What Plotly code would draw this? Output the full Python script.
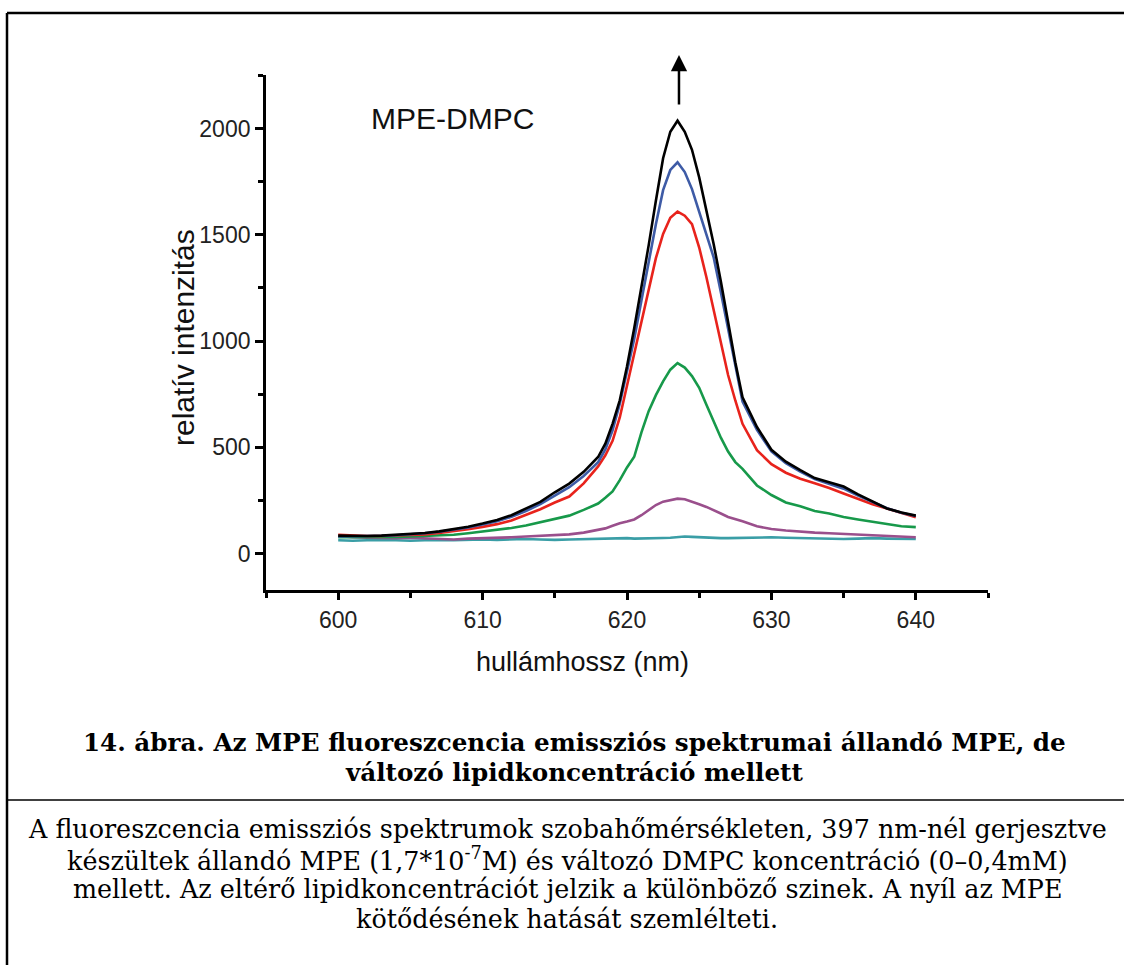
import plotly.graph_objects as go

# ---------------- data ----------------
wavelength = [600, 601, 602, 603, 604, 605, 606, 607, 608, 609, 610, 611, 612, 613, 614, 615, 616, 617, 618,
              618.5, 619, 619.5, 620, 620.5, 621, 621.5, 622, 622.5, 623, 623.5, 624, 624.5, 625, 625.5,
              626, 626.5, 627, 627.5, 628,
              629, 630, 631, 632, 633, 634, 635, 636, 637, 638, 639, 640]

black = [84, 82, 82, 84, 87, 90, 96, 104, 114, 126, 141, 158, 180, 210, 243, 288, 329, 384, 454,
         517, 610, 721, 880, 1060, 1250, 1450, 1660, 1860, 1985, 2037, 1985, 1900, 1770, 1610,
         1457, 1280, 1080, 900, 735,
         595, 488, 432, 392, 355, 335, 315, 278, 245, 212, 193, 178]

blue = [80, 80, 81, 83, 86, 89, 95, 102, 111, 122, 136, 152, 173, 200, 232, 272, 312, 365, 430,
        490, 580, 705, 855, 1010, 1190, 1370, 1550, 1710, 1805, 1841, 1795, 1715, 1610, 1500,
        1394, 1230, 1060, 880, 715,
        582, 480, 425, 385, 350, 328, 305, 272, 242, 213, 192, 176]

red = [88, 84, 82, 82, 84, 86, 90, 96, 104, 114, 125, 138, 155, 180, 208, 240, 268, 330, 410,
       462, 530, 640, 790, 930, 1090, 1240, 1390, 1504, 1580, 1609, 1590, 1550, 1440, 1300,
       1150, 990, 840, 720, 610,
       486, 420, 380, 352, 330, 308, 282, 256, 232, 212, 190, 170]

green = [76, 76, 77, 76, 78, 80, 82, 84, 88, 95, 103, 110, 120, 132, 148, 165, 178, 205, 235,
         262, 292, 345, 405, 455, 570, 670, 745, 810, 865, 896, 875, 835, 780, 700,
         625, 545, 480, 430, 398,
         320, 275, 240, 222, 200, 188, 172, 160, 150, 138, 128, 124]

purple = [82, 76, 74, 72, 72, 74, 72, 70, 66, 70, 72, 72, 76, 80, 84, 86, 90, 98, 110,
          118, 130, 142, 150, 160, 180, 205, 228, 244, 252, 258, 255, 245, 232, 219,
          205, 188, 172, 162, 152,
          128, 115, 108, 102, 98, 95, 92, 88, 84, 82, 78, 76]

teal = [62, 60, 62, 64, 62, 60, 62, 64, 62, 64, 66, 64, 66, 68, 66, 64, 66, 68, 70,
        70, 70, 72, 72, 70, 70, 72, 72, 73, 74, 76, 80, 78, 76, 74,
        74, 72, 72, 73, 74,
        76, 76, 74, 72, 72, 70, 68, 70, 72, 70, 68, 68]

x_ticks = [600, 610, 620, 630, 640]
y_ticks = [0, 500, 1000, 1500, 2000]

series = [
    ("teal", teal, "#3a9ea6"),
    ("purple", purple, "#9a4f8c"),
    ("green", green, "#17994a"),
    ("red", red, "#e8231c"),
    ("blue", blue, "#3e5ba6"),
    ("black", black, "#000000"),
]

# ---------------- layout helpers (pixel -> paper) ----------------
L, R, T, B = 266, 988, 75, 590
W, H = R - L, B - T


def px(x):
    return (x - L) / W


def py(y):
    return (B - y) / H


fig = go.Figure()
for name, vals, col in series:
    fig.add_trace(go.Scatter(x=wavelength, y=vals, mode="lines", name=name,
                             line=dict(color=col, width=2.6), showlegend=False))

sans = "Liberation Sans, Arial, sans-serif"
serif = "DejaVu Serif, Liberation Serif, serif"

fig.update_layout(
    width=1124, height=965,
    margin=dict(l=L, r=1124 - R, t=T, b=965 - B),
    paper_bgcolor="white", plot_bgcolor="white",
    showlegend=False,
    xaxis=dict(range=[595, 645], tickmode="array", tickvals=x_ticks,
               ticks="outside", ticklen=7, tickwidth=2.5, tickcolor="black",
               showline=True, linecolor="black", linewidth=2.8,
               showgrid=False, zeroline=False,
               tickfont=dict(family=sans, size=23, color="#222"),
               minor=dict(tickmode="linear", tick0=595, dtick=5, ticks="outside",
                          ticklen=5, tickwidth=2.5, tickcolor="black", showgrid=False)),
    yaxis=dict(range=[-172, 2252], tickmode="array", tickvals=y_ticks,
               ticks="outside", ticklen=8, tickwidth=2.5, tickcolor="black",
               showline=True, linecolor="black", linewidth=2.8,
               showgrid=False, zeroline=False,
               tickfont=dict(family=sans, size=23, color="#222"),
               minor=dict(tickmode="linear", tick0=250, dtick=500, ticks="outside",
                          ticklen=5, tickwidth=2.5, tickcolor="black", showgrid=False)),
)

ann = []
ann.append(dict(text="MPE-DMPC", xref="paper", yref="paper", x=px(369), y=py(118),
                xanchor="left", yanchor="middle", showarrow=False,
                font=dict(family=sans, size=30, color="#111")))
ann.append(dict(text="hullámhossz (nm)", xref="paper", yref="paper", x=px(582), y=py(662),
                xanchor="center", yanchor="middle", showarrow=False,
                font=dict(family=sans, size=27, color="#111")))
ann.append(dict(text="relatív intenzitás", xref="paper", yref="paper", x=px(183), y=py(338),
                xanchor="center", yanchor="middle", showarrow=False, textangle=-90,
                font=dict(family=sans, size=30, color="#111")))
# arrow
ann.append(dict(text="", xref="x", yref="paper", x=623.6, y=py(55),
                ax=0, ay=51, showarrow=True, arrowhead=2, arrowsize=1.3,
                arrowwidth=2.5, arrowcolor="black"))

title_lines = [
    ("<b>14. ábra. Az MPE fluoreszcencia emissziós spektrumai állandó MPE, de</b>", 742),
    ("<b>változó lipidkoncentráció mellett</b>", 772),
]
body_lines = [
    ("A fluoreszcencia emissziós spektrumok szobahőmérsékleten, 397 nm-nél gerjesztve", 829),
    ("készültek állandó MPE (1,7*10<sup>-7</sup>M) és változó DMPC koncentráció (0–0,4mM)", 859),
    ("mellett. Az eltérő lipidkoncentrációt jelzik a különböző szinek. A nyíl az MPE", 889),
    ("kötődésének hatását szemlélteti.", 919),
]
for t, yy in title_lines:
    ann.append(dict(text=t, xref="paper", yref="paper", x=px(574), y=py(yy),
                    xanchor="center", yanchor="middle", showarrow=False,
                    font=dict(family=serif, size=24.6, color="black")))
for t, yy in body_lines:
    ann.append(dict(text=t, xref="paper", yref="paper", x=px(567), y=py(yy),
                    xanchor="center", yanchor="middle", showarrow=False,
                    font=dict(family=serif, size=25.4, color="black")))

fig.update_layout(annotations=ann)

# outer frame (left and top edges visible) and caption separator
shapes = [
    dict(type="line", xref="paper", yref="paper", x0=px(7), x1=px(7), y0=py(13), y1=py(990),
         line=dict(color="black", width=2.5)),
    dict(type="line", xref="paper", yref="paper", x0=px(7), x1=px(1140), y0=py(13), y1=py(13),
         line=dict(color="black", width=2.5)),
    dict(type="line", xref="paper", yref="paper", x0=px(7), x1=px(1140), y0=py(800), y1=py(800),
         line=dict(color="black", width=1.5)),
]
fig.update_layout(shapes=shapes)

fig.write_html("out.html")
